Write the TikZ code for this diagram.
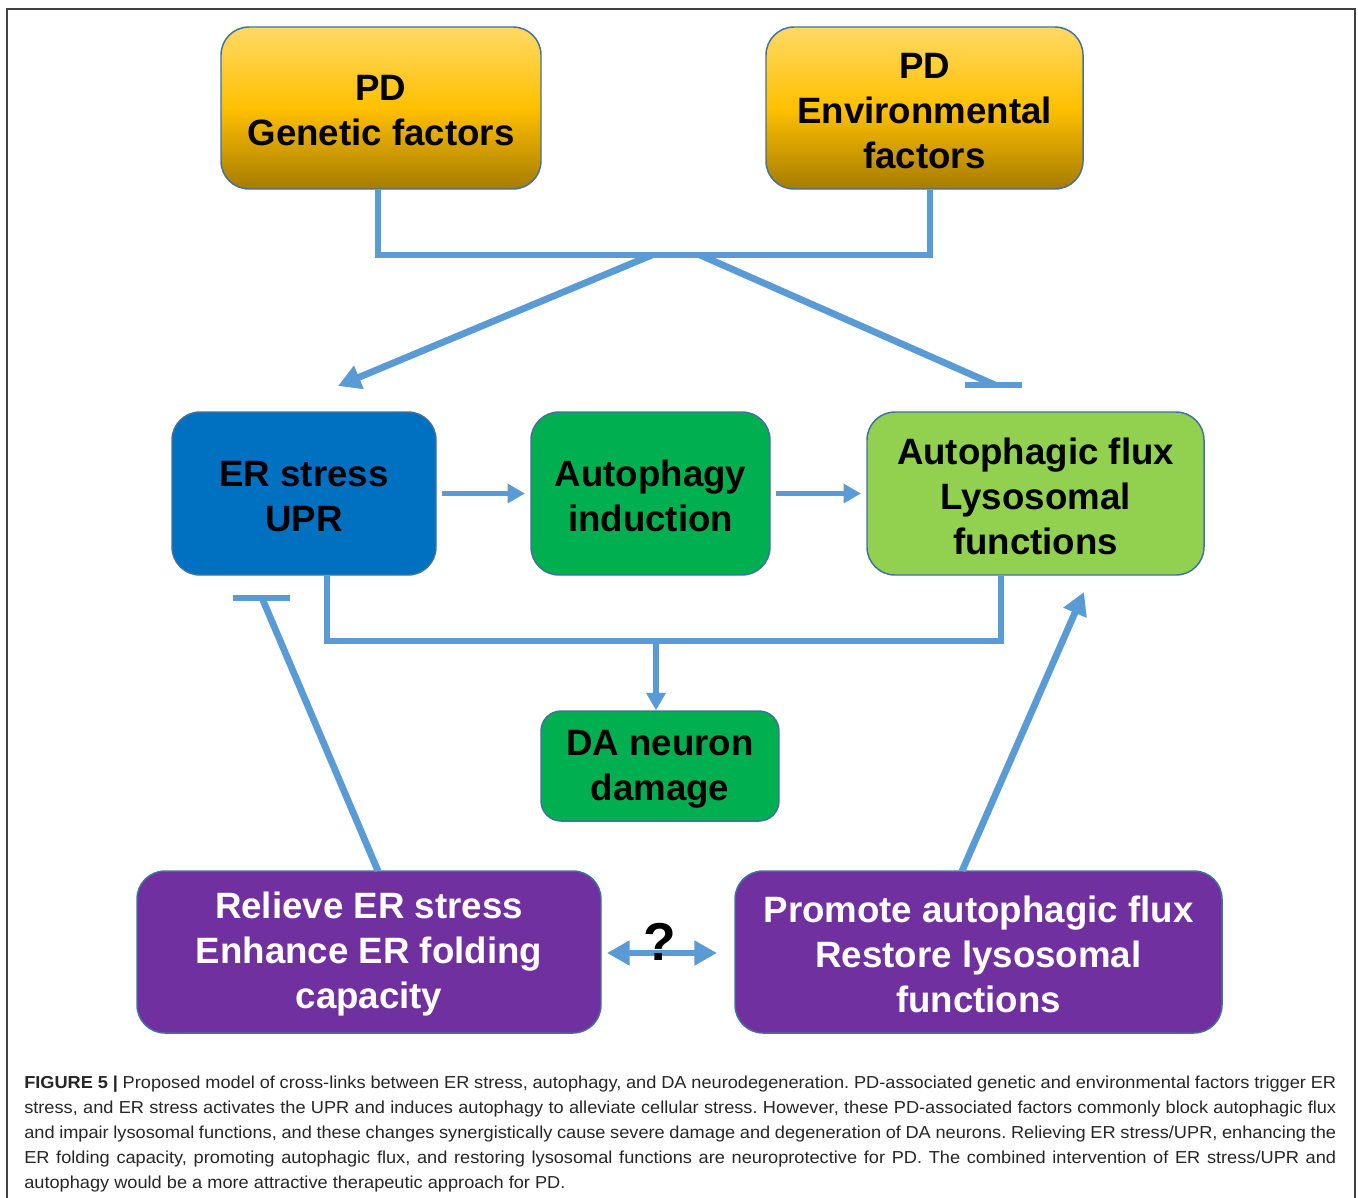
\documentclass[tikz,border=0pt]{standalone}
\usepackage{fontspec}
\setmainfont{Liberation Sans}
\newfontfamily\capfont[FakeStretch=1.05]{Liberation Sans}
\usetikzlibrary{arrows.meta}
\definecolor{arrowblue}{HTML}{5B9BD5}
\definecolor{boxedge}{HTML}{41719C}
\definecolor{erblue}{HTML}{0070C0}
\definecolor{dgreen}{HTML}{00B050}
\definecolor{lgreen}{HTML}{92D050}
\definecolor{purp}{HTML}{7030A0}
\definecolor{ytop}{HTML}{FFD966}
\definecolor{ymid}{HTML}{FFC000}
\definecolor{ybot}{HTML}{A67C00}
\tikzset{
  box/.style={draw=boxedge, line width=1.1pt, rounded corners=21pt, align=center,
    font=\bfseries\fontsize{27.5}{33.75}\selectfont, inner sep=0pt},
  gold/.style={box, top color=ytop, bottom color=ybot, middle color=ymid},
  conn/.style={draw=arrowblue, line width=3.9pt},
  thick conn/.style={draw=arrowblue, line width=5.1pt},
  bigtip/.style={-{Triangle[length=17pt,width=18pt]}},
  smalltip/.style={-{Triangle[length=13pt,width=14pt]}},
}
\begin{document}
\begin{tikzpicture}[x=0.75pt,y=-0.75pt]
\useasboundingbox (0,0) rectangle (1358,1197);
% frame
\draw[black!75, line width=0.9pt] (7,1200) -- (7,9) -- (1355,9) -- (1355,1200);

% nodes
\node[gold, minimum width=240pt, minimum height=121.5pt] (gen) at (381,108) {\rule{0pt}{23.5pt}PD\\Genetic factors};
\node[gold, minimum width=237.75pt, minimum height=121.5pt] (env) at (924.5,108) {\rule{0pt}{23.5pt}PD\\Environmental\\factors};
\node[box, fill=erblue, minimum width=198pt, minimum height=122.25pt] (er) at (304,493.5) {\rule{0pt}{23.5pt}ER stress\\UPR};
\node[box, fill=dgreen, minimum width=179.25pt, minimum height=122.25pt] (aut) at (650.5,493.5) {\rule{0pt}{23.5pt}Autophagy\\induction};
\node[box, fill=lgreen, minimum width=252.75pt, minimum height=122.25pt] (flux) at (1035.5,493.5) {\rule{0pt}{23.5pt}Autophagic flux\\Lysosomal\\functions};
\node[box, fill=dgreen, rounded corners=15pt, minimum width=178.5pt, minimum height=82.5pt] (da) at (660,766) {\rule{0pt}{23.5pt}DA neuron\\damage};
\node[box, fill=purp, text=white, minimum width=348pt, minimum height=121.5pt] (rel) at (369,952) {\rule{0pt}{23.5pt}Relieve ER stress\\Enhance ER folding\\capacity};
\node[box, fill=purp, text=white, minimum width=365.25pt, minimum height=121.5pt] (pro) at (978.5,952) {\rule{0pt}{23.5pt}Promote autophagic flux\\Restore lysosomal\\functions};

% top bracket
\coordinate (j1) at (378,255);
\coordinate (j2) at (930,255);
\draw[conn, line join=miter] (gen.south -| j1) -- (j1) -- (j2) -- (env.south -| j2);
\coordinate (s1) at (652,255);
\coordinate (t1) at (338,386);
\draw[thick conn, bigtip] (s1) -- (t1);
\coordinate (s2) at (700,255);
\coordinate (t2) at (995,385);
\draw[thick conn] (s2) -- (t2);
\coordinate (b2a) at (965,385);
\coordinate (b2b) at (1022,385);
\draw[thick conn] (b2a) -- (b2b);

% middle row arrows
\draw[conn, smalltip] ([xshift=4pt]er.east) -- ([xshift=-4pt]aut.west);
\draw[conn, smalltip] ([xshift=4pt]aut.east) -- ([xshift=-4pt]flux.west);

% bottom bracket
\coordinate (k1) at (327,641);
\coordinate (k2) at (1001,641);
\coordinate (k3) at (656,641);
\draw[conn, line join=miter] (er.south -| k1) -- (k1) -- (k2) -- (flux.south -| k2);
\draw[conn, smalltip] (k3) -- (da.north -| k3);

% lower connectors
\coordinate (r1) at (378,871);
\coordinate (r2) at (262,598);
\draw[thick conn] (r1) -- (r2);
\coordinate (rb1) at (233,598);
\coordinate (rb2) at (290,598);
\draw[thick conn] (rb1) -- (rb2);
\coordinate (p1) at (962,871);
\coordinate (p2) at (1084,592);
\draw[thick conn, bigtip] (p1) -- (p2);

% double arrow with question mark
\draw[conn, {Triangle[length=17pt,width=18pt]}-{Triangle[length=17pt,width=18pt]}] ([xshift=4pt]rel.east |- 0,953) -- ([xshift=-13pt]pro.west |- 0,953);
\node[font=\bfseries\fontsize{40}{40}\selectfont, inner sep=0pt] (q) at (660,942) {?};

% caption
\node[anchor=north west, inner sep=0pt, text width=984pt, align=justify,
      font=\capfont\fontsize{13}{18.75}\selectfont\frenchspacing, text=black!85] (cap) at (24,1076)
{\textbf{FIGURE 5 |} Proposed model of cross-links between ER stress, autophagy, and DA neurodegeneration. PD-associated genetic and environmental factors trigger ER\linebreak
stress, and ER stress activates the UPR and induces autophagy to alleviate cellular stress. However, these PD-associated factors commonly block autophagic flux\linebreak
and impair lysosomal functions, and these changes synergistically cause severe damage and degeneration of DA neurons. Relieving ER stress/UPR, enhancing the\linebreak
ER folding capacity, promoting autophagic flux, and restoring lysosomal functions are neuroprotective for PD. The combined intervention of ER stress/UPR and\linebreak
autophagy would be a more attractive therapeutic approach for PD.};
\end{tikzpicture}
\end{document}
